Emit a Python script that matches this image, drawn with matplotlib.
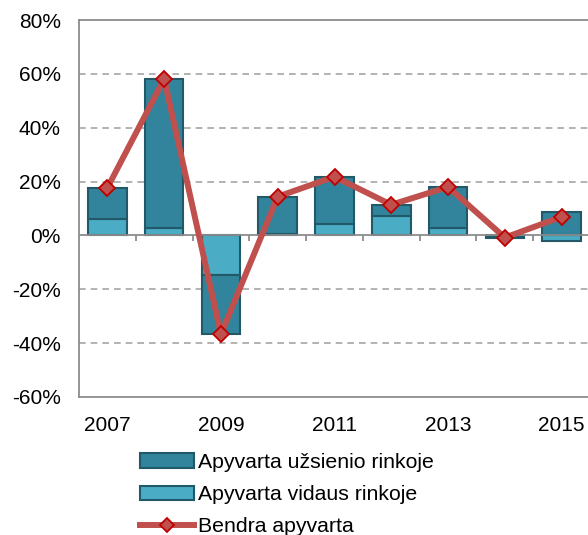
import numpy as np
import matplotlib
matplotlib.use("Agg")
import matplotlib.pyplot as plt
from matplotlib.patches import Patch
from matplotlib.lines import Line2D

plt.rcParams['font.family'] = ['Liberation Sans', 'DejaVu Sans']

years = [2007, 2008, 2009, 2010, 2011, 2012, 2013, 2014, 2015]
foreign = [11.7, 55.4, -22.0, 13.9, 17.5, 4.2, 15.1, -0.6, 8.8]
domestic = [6.0, 2.7, -14.7, 0.5, 4.3, 7.2, 2.9, -0.2, -1.9]
total = [17.7, 58.1, -36.7, 14.4, 21.8, 11.4, 18.0, -0.8, 6.9]
tick_labels = ["2007", "", "2009", "", "2011", "", "2013", "", "2015"]

dark = "#31849B"
light = "#4BACC6"
edge = "#215968"
red_line = "#C0504D"
grey = "#8C8C8C"

fig = plt.figure(figsize=(5.88, 5.35), dpi=100)
ax = fig.add_axes([79 / 588, 138 / 535, 511 / 588, 377 / 535])

x = np.arange(len(years))
dom = np.array(domestic)
fore = np.array(foreign)
# stack positives and negatives separately, domestic closest to zero
fore_bottom = np.where(np.sign(fore) == np.sign(dom), dom, 0)

ax.bar(x, dom, width=0.68, color=light, edgecolor=edge, linewidth=1.5, zorder=3)
ax.bar(x, fore, bottom=fore_bottom, width=0.68, color=dark, edgecolor=edge,
       linewidth=1.5, zorder=3)
ax.plot(x, total, color=red_line, linewidth=4.3, marker="D", markersize=8,
        markerfacecolor=red_line, markeredgecolor="#C00000", markeredgewidth=1.3,
        zorder=5)

ax.set_xlim(-0.5, len(years) - 0.5)
ax.set_ylim(-60, 80)
ax.set_yticks(np.arange(-60, 81, 20))
ax.set_yticklabels([f"{v}%" for v in range(-60, 81, 20)])
ax.set_xticks(x)
ax.set_xticklabels(tick_labels)
ax.tick_params(axis="both", length=0, labelsize=15, colors="black")
ax.tick_params(axis="x", pad=14)
ax.tick_params(axis="y", pad=13)

for v in range(-40, 80, 20):
    if v != 0:
        ax.axhline(v, color="#A6A6A6", linestyle=(0, (4, 3)), linewidth=1.2, zorder=1)
ax.axhline(0, color=grey, linewidth=1.3, zorder=4)
ax.vlines(x[:-1] + 0.5, 0, -2.0, color=grey, linewidth=1.3, zorder=4)

for s in ax.spines.values():
    s.set_color(grey)
    s.set_linewidth(1.3)

handles = [
    Patch(facecolor=dark, edgecolor=edge, linewidth=1.5),
    Patch(facecolor=light, edgecolor=edge, linewidth=1.5),
    Line2D([], [], color=red_line, linewidth=4.3, marker="D", markersize=7,
           markerfacecolor=red_line, markeredgecolor="#C00000", markeredgewidth=1.3),
]
labels = ["Apyvarta užsienio rinkoje", "Apyvarta vidaus rinkoje", "Bendra apyvarta"]
fig.legend(handles, labels, loc="upper left", bbox_to_anchor=(140 / 588, 1 - 453 / 535),
           frameon=False, fontsize=15.3, handlelength=2.55, handleheight=0.65,
           handletextpad=0.2, labelspacing=0.62, borderaxespad=0, borderpad=0)

fig.savefig("out.png", dpi=100)
